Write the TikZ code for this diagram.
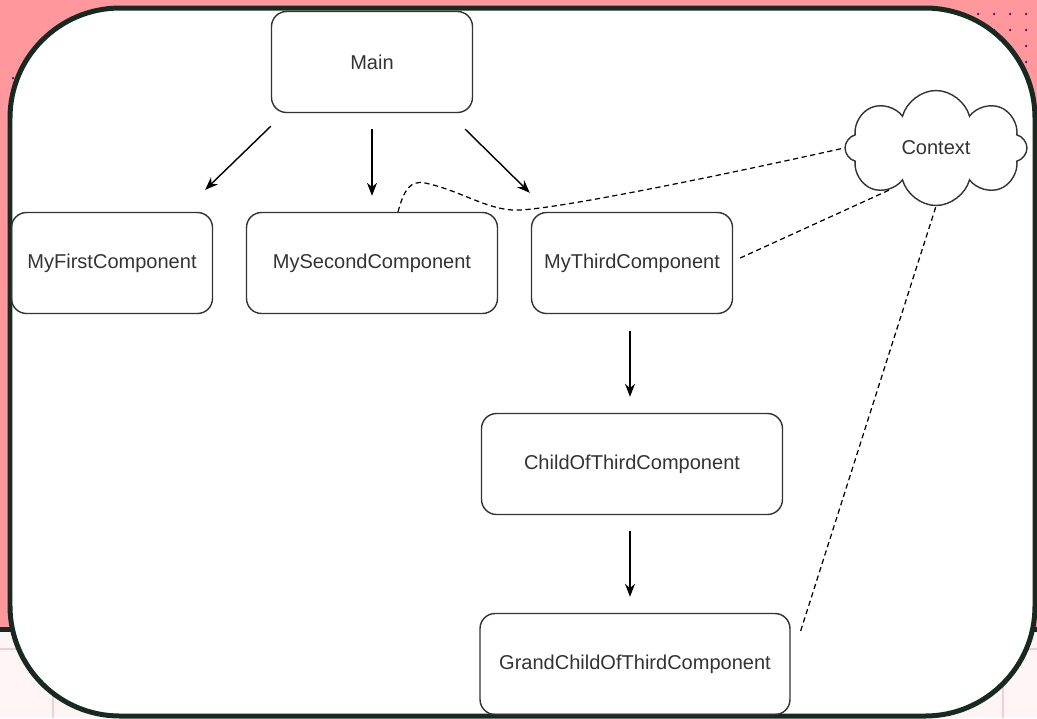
\documentclass[tikz,border=0pt]{standalone}
\usepackage{fontspec}
\setmainfont{Liberation Sans}
\usetikzlibrary{calc,shapes.symbols,arrows.meta}
\definecolor{slidepink}{RGB}{255, 151, 157}
\definecolor{slidepaper}{RGB}{255, 245, 245}
\definecolor{slidegrid}{RGB}{242, 205, 210}
\definecolor{slideframe}{RGB}{23, 42, 34}
\definecolor{slidedot}{RGB}{40, 36, 64}
\definecolor{boxline}{RGB}{51, 51, 51}
\tikzstyle{comp} = [
  draw=boxline,
  line width=0.8pt,
  rounded corners=0.3cm,
  minimum height=2.02cm,
  text=boxline,
  font=\fontsize{11.4}{13}\selectfont,
]
\tikzstyle{arr} = [
  line width=0.8pt,
  -{Stealth[length=0.26cm,width=0.2cm]},
]
\tikzstyle{link} = [
  line width=0.7pt,
  dash pattern=on 3pt off 2pt,
]

\begin{document}
\begin{tikzpicture}[x=0.02cm, y=-0.02cm]
            \useasboundingbox (0,0) rectangle (1037,718);

            % Slide background
            \fill[slidepaper] (0,0) rectangle (1037,718);
            \fill[slidepink] (0,0) rectangle (1037,627);
            \draw[slidegrid, line width=0.03cm] (0,649) -- (1037,649);
            \draw[slidegrid, line width=0.03cm] (53,632) -- (53,718);
            \draw[slidegrid, line width=0.03cm] (1003,632) -- (1003,718);
            \draw[slideframe, line width=0.1cm] (0,629) -- (1037,629);

            % Dots
            \foreach \x in {946,962,...,1026}
              \foreach \y in {14,30,...,78}
                \fill[slidedot] (\x,\y) circle (0.025cm);
            \fill[slidedot] (13,78) circle (0.025cm);

            % Frame
            \draw[slideframe, fill=white, line width=0.1cm, rounded corners=2.2cm]
              (10,8) rectangle (1035,716);

            % Components
            \node[comp, minimum width=4.02cm] (main) at (372,62) {Main};
            \node[comp, minimum width=4.02cm] (first) at (112,263) {MyFirstComponent};
            \node[comp, minimum width=5.02cm] (second) at (372,263) {MySecondComponent};
            \node[comp, minimum width=4.02cm] (third) at (632,263) {MyThirdComponent};
            \node[comp, minimum width=6.02cm] (child) at (632,464) {ChildOfThirdComponent};
            \node[comp, minimum width=6.2cm] (grand) at (635,664) {GrandChildOfThirdComponent};
            \node[cloud, cloud puffs=8, aspect=1.6, draw=boxline, line width=0.8pt,
              minimum width=3.64cm, minimum height=2.3cm, text=boxline,
              font=\fontsize{11.4}{13}\selectfont] (context) at (936,148) {Context};

            % Arrows
            \draw[arr] ($(main.south west)+(0,13)$) -- ($(first.north east)+(-8,-22)$);
            \draw[arr] ($(main.south)+(0,16)$) -- ($(second.north)+(0,-16)$);
            \draw[arr] ($(main.south east)+(-8,16)$) -- ($(third.north west)+(-1,-19)$);
            \draw[arr] ($(third.south)+(-2,17)$) -- ($(child.north)+(-2,-16)$);
            \draw[arr] ($(child.south)+(-2,16)$) -- ($(grand.north)+(-5,-16)$);

            % Context links
            \draw[link] ($(second.north)+(26,0)$) .. controls (404,190) and (410,180) .. (425,183)
              .. controls (460,190) and (490,212) .. (520,210)
              .. controls (560,208) and (700,180) .. (context.west);
            \draw[link] ($(third.east)+(7,-5)$) -- (context.222);
            \draw[link] ($(grand.north east)+(10,18)$) -- (context.south);
          \end{tikzpicture}
\end{document}
